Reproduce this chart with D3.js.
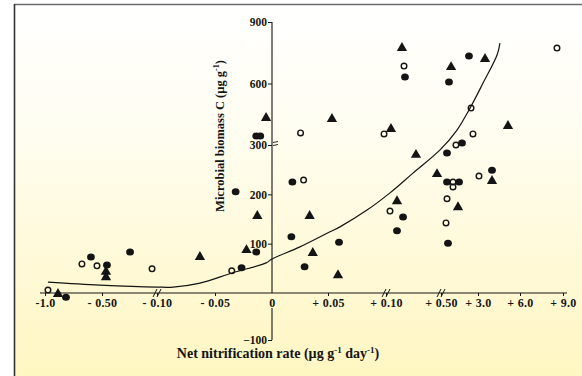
<!DOCTYPE html>
<html>
<head>
<meta charset="utf-8">
<script src="https://cdn.jsdelivr.net/npm/d3@7"></script>
<style>
  html, body { margin: 0; padding: 0; background: #fff; }
  svg { display: block; }
</style>
</head>
<body>
<div id="chart"></div>
<script>
// axis ticks (broken, non-uniform axes as in the original figure)
const xTicks = [-1.0, -0.5, -0.1, -0.05, 0, 0.05, 0.1, 0.5, 3, 6, 9];
const xTickLabels = ["-1.0", "- 0.50", "- 0.10", "- 0.05", "0", "+ 0.05", "+ 0.10", "+ 0.50", "+ 3.0", "+ 6.0", "+ 9.0"];
const xBreaks = [-0.1, 0.1, 0.5];
const yTicks = [900, 600, 300, 200, 100, -100];
const yBreaks = [300];

// filled circles [net nitrification, biomass C]
const filledCircles = [
  [-0.597, 73], [-0.464, 57], [-0.296, 83], [-0.816, -9], [-0.0319, 205],
  [-0.0267, 51], [-0.0138, 83], [-0.0138, 344], [-0.0103, 344], [0.0182, 225],
  [0.0173, 114], [0.0291, 53], [0.0595, 103], [0.224, 154], [0.18, 126],
  [0.238, 632], [1.04, 607], [2.39, 734], [0.906, 284], [1.92, 310],
  [0.906, 225], [1.72, 225], [4.0, 249], [0.973, 101]
];
// open circles
const openCircles = [
  [-0.676, 59], [-0.544, 55], [-0.136, 49], [-0.0353, 45], [-0.974, 6],
  [0.0255, 359], [0.0282, 229], [0.0983, 354], [0.129, 166], [0.231, 685],
  [2.53, 480], [2.66, 354], [1.51, 300], [1.31, 225], [1.31, 215],
  [0.906, 191], [0.838, 142], [3.07, 237], [8.58, 773]
];
// filled triangles
const triangles = [
  [-0.471, 43], [-0.471, 32], [-0.886, -2], [-0.063, 73], [-0.0224, 87],
  [-0.0129, 156], [-0.0052, 432], [0.0336, 156], [0.0364, 81], [0.0586, 36],
  [0.0534, 427], [0.136, 378], [0.18, 186], [0.216, 773], [0.318, 280],
  [0.471, 241], [1.18, 680], [3.5, 720], [1.65, 174], [4.0, 227], [5.14, 393]
];
// fitted curve
const fitX = [-0.974, -0.518, -0.1, -0.086, -0.063, -0.0345, -0.0052, 0, 0.0245, 0.0517,
  0.0603, 0.0836, 0.129, 0.296, 0.493, 1.58, 2.46, 3.36, 4.36, 4.57];
const fitY = [22, 16, 12, 12, 20, 41, 61, 69, 93, 124,
  134, 168, 203, 243, 290, 373, 480, 602, 739, 797];

const width = 582, height = 376;
const ink = "#141414";
const serif = "'Liberation Serif', 'DejaVu Serif', serif";

const svg = d3.select("#chart").append("svg")
  .attr("width", width)
  .attr("height", height);

const defs = svg.append("defs");
const grad = defs.append("linearGradient")
  .attr("id", "bg").attr("x1", 0).attr("y1", 0).attr("x2", 0).attr("y2", 1);
grad.append("stop").attr("offset", "0%").attr("stop-color", "#ffffff");
grad.append("stop").attr("offset", "35%").attr("stop-color", "#fffdf0");
grad.append("stop").attr("offset", "100%").attr("stop-color", "#fff6c2");

svg.append("rect")
  .attr("x", 14).attr("y", 4.5)
  .attr("width", width - 14).attr("height", height - 4.5)
  .attr("fill", "url(#bg)");

// frame
svg.append("line").attr("x1", 14).attr("x2", width).attr("y1", 4.5).attr("y2", 4.5)
  .attr("stroke", "#6a6a6a").attr("stroke-width", 1.6);
svg.append("line").attr("x1", 14.5).attr("x2", 14.5).attr("y1", 4).attr("y2", height)
  .attr("stroke", "#333").attr("stroke-width", 1.6);

const x = d3.scaleLinear()
  .domain(xTicks)
  .range([45, 102, 157, 215, 272, 328, 386, 441, 478, 520, 563]);

const y = d3.scaleLinear()
  .domain([-100, 0, 300, 900])
  .range([340, 293, 145, 22]);

const g = svg.append("g");

// x axis
const xAxis = g.append("g")
  .attr("transform", `translate(0,${y(0)})`)
  .call(d3.axisBottom(x).tickValues(xTicks).tickSize(3).tickPadding(2)
    .tickFormat((d, i) => xTickLabels[i]));
xAxis.select(".domain").remove();
xAxis.selectAll(".tick line").attr("stroke", ink);
xAxis.selectAll("text")
  .attr("fill", ink)
  .style("font-family", serif)
  .style("font-weight", "bold")
  .style("font-size", "12px")
  .style("letter-spacing", "0.3px");
xAxis.selectAll(".tick").filter(d => d === 0).select("line").remove();

g.append("line")
  .attr("x1", 40).attr("x2", 567)
  .attr("y1", y(0)).attr("y2", y(0))
  .attr("stroke", ink).attr("stroke-width", 1.1);

// x axis breaks
xBreaks.forEach(v => {
  [-2, 2].forEach(off => {
    g.append("line")
      .attr("x1", x(v) + off - 2).attr("x2", x(v) + off + 2)
      .attr("y1", y(0) + 4).attr("y2", y(0) - 4)
      .attr("stroke", ink).attr("stroke-width", 1);
  });
});

// y axis
const yAxis = g.append("g")
  .attr("transform", `translate(${x(0)},0)`)
  .call(d3.axisLeft(y).tickValues(yTicks).tickSize(4).tickPadding(1));
yAxis.select(".domain").remove();
yAxis.selectAll(".tick line").attr("stroke", ink);
yAxis.selectAll("text")
  .attr("fill", ink)
  .style("font-family", serif)
  .style("font-weight", "bold")
  .style("font-size", "11.5px");

g.append("line")
  .attr("x1", x(0)).attr("x2", x(0))
  .attr("y1", y(900)).attr("y2", y(0))
  .attr("stroke", ink).attr("stroke-width", 1.1);
g.append("line")
  .attr("x1", x(0)).attr("x2", x(0))
  .attr("y1", y(0) + 15).attr("y2", y(-100))
  .attr("stroke", ink).attr("stroke-width", 1.1);

yBreaks.forEach(v => {
  [-1.5, 1.5].forEach(off => {
    g.append("line")
      .attr("x1", x(0) + 1).attr("x2", x(0) + 6)
      .attr("y1", y(v) + off - 1).attr("y2", y(v) + off - 2)
      .attr("stroke", ink).attr("stroke-width", 0.9);
  });
});

// fitted curve
const line = d3.line()
  .x(d => x(d[0]))
  .y(d => y(d[1]))
  .curve(d3.curveCatmullRom.alpha(0.5));

g.append("path")
  .datum(fitX.map((v, i) => [v, fitY[i]]))
  .attr("d", line)
  .attr("fill", "none")
  .attr("stroke", ink)
  .attr("stroke-width", 1.2);

// points
g.selectAll(".fc").data(filledCircles).join("ellipse")
  .attr("class", "fc")
  .attr("cx", d => x(d[0])).attr("cy", d => y(d[1]))
  .attr("rx", 3.9).attr("ry", 3.5)
  .attr("fill", ink);

g.selectAll(".oc").data(openCircles).join("circle")
  .attr("class", "oc")
  .attr("cx", d => x(d[0])).attr("cy", d => y(d[1]))
  .attr("r", 2.8)
  .attr("fill", "none")
  .attr("stroke", ink)
  .attr("stroke-width", 1.4);

const tri = d3.symbol().type(d3.symbolTriangle).size(46);
g.selectAll(".tr").data(triangles).join("path")
  .attr("class", "tr")
  .attr("transform", d => `translate(${x(d[0])},${y(d[1])})`)
  .attr("d", tri)
  .attr("fill", ink);

// axis titles
const xTitle = svg.append("text")
  .attr("x", 278).attr("y", 358)
  .attr("text-anchor", "middle")
  .attr("fill", ink)
  .style("font-family", serif)
  .style("font-weight", "bold")
  .style("font-size", "14px");
xTitle.append("tspan").text("Net nitrification rate (µg g");
xTitle.append("tspan").attr("dy", -5).style("font-size", "9px").text("-1");
xTitle.append("tspan").attr("dy", 5).text(" day");
xTitle.append("tspan").attr("dy", -5).style("font-size", "9px").text("-1");
xTitle.append("tspan").attr("dy", 5).text(")");

const yTitle = svg.append("text")
  .attr("transform", "translate(224,136) rotate(-90)")
  .attr("text-anchor", "middle")
  .attr("fill", ink)
  .style("font-family", serif)
  .style("font-weight", "bold")
  .style("font-size", "12.5px");
yTitle.append("tspan").text("Microbial biomass C (µg g");
yTitle.append("tspan").attr("dy", -5).style("font-size", "8px").text("-1");
yTitle.append("tspan").attr("dy", 5).text(")");
</script>
</body>
</html>
